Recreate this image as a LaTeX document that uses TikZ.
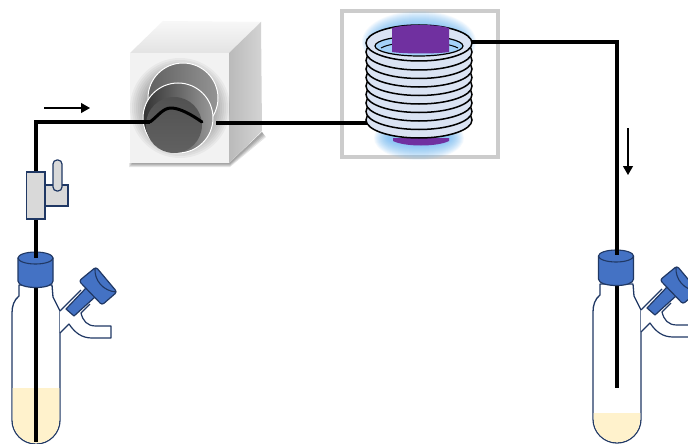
\documentclass[tikz,border=0pt]{standalone}
\usetikzlibrary{arrows.meta}
\definecolor{navy}{HTML}{203864}
\definecolor{capblue}{HTML}{4472C4}
\definecolor{liquid}{HTML}{FFF2CC}
\definecolor{valvegray}{HTML}{D9D9D9}
\definecolor{coilfill}{HTML}{DAE3F3}
\definecolor{glowblue}{HTML}{5AAEF5}
\definecolor{uvpurple}{HTML}{7030A0}
\tikzset{
  glass/.style={draw=navy,line width=1.3pt,line join=round},
  capshape/.style={draw=navy,line width=1.2pt,fill=capblue,line join=round},
  tube/.style={draw=black,line width=3.3pt,line cap=butt,line join=miter},
  flowarrow/.style={draw=black,line width=1.1pt,-{Triangle[length=9pt,width=10pt]}},
  valvepart/.style={draw=navy,line width=1.2pt,fill=valvegray},
  coilring/.style={draw=black,line width=1.5pt,fill=coilfill},
}
\newcommand{\flask}[4]{%
 \begin{scope}[shift={(#1,#2)}]
  % body
  \path[glass,fill=white] (19,285) -- (19,296) .. controls (14,300) and (12,306) .. (12,313)
     -- (12,420) arc[start angle=180,end angle=0,radius=24] -- (60,311)
     -- (53,297) -- (52,285) -- cycle;
  % side arm
  \fill[white] (60,311) -- (81,290) -- (95,300) -- (81,313)
     .. controls (83,321) and (87,326) .. (96,326) -- (111,326) -- (111,338) -- (92,338)
     .. controls (82,338) and (75,333) .. (69,324) -- (60,333) -- cycle;
  \begin{scope}
   \clip (12.7,#3) rectangle (59.3,450);
   \path[fill=liquid] (12.7,300) -- (12.7,420) arc[start angle=180,end angle=0,radius=23.3] -- (59.3,300) -- cycle;
  \end{scope}
  \draw[navy,line width=1.2pt,line join=round] (60,333) -- (69,324)
     .. controls (75,333) and (82,338) .. (92,338) -- (111,338) -- (111,326) -- (96,326)
     .. controls (87,326) and (83,321) .. (81,313) -- (90,304);
  \draw[navy,line width=1.2pt] (60,311) -- (81,290);
  % stem
  \draw[capshape] (66,309) -- (86,288) -- (95,297) -- (74,316) -- cycle;
  % knob
  \draw[capshape,rounded corners=2.5pt] (79,281) -- (96,267) -- (117,292) -- (102,305) -- cycle;
  \draw[navy,line width=1.1pt] (95,268) .. controls (94,280) and (103,291) .. (116,292);
  % inner tube
  \draw[tube] (36,287) -- (36,#4);
 \end{scope}}
\newcommand{\flaskcap}[2]{%
 \begin{scope}[shift={(#1,#2)}]
  \path[capshape] (18,258) -- (18,281) .. controls (18,285) and (26,287.5) .. (36,287.5)
     .. controls (46,287.5) and (53,285) .. (53,281) -- (53,258) -- cycle;
  \draw[navy,line width=1.1pt,fill=capblue] (35.5,258) ellipse[x radius=17.5,y radius=6];
 \end{scope}}
\begin{document}
\begin{tikzpicture}[x=1pt,y=-1pt]
\useasboundingbox (0,0) rectangle (688,444);
\fill[white] (0,0) rectangle (688,444);
\clip (0,0) rectangle (688,444);

% ---- flasks
\flask{0}{0}{388}{442}
\flask{581}{-1}{414}{389}
\flaskcap{0}{0}
\flaskcap{580.5}{-2}

% ---- pump
\foreach \r in {4,3,2,1}
  \fill[black,opacity=.10] (133-\r,163) -- (229,163) -- (262,132) -- (262+\r,133+\r) -- (230,163+\r) -- (133-\r,163+\r) -- cycle;
\shade[top color=black!3,bottom color=black!11] (130,53) -- (163,21) -- (261,22) -- (229,53) -- cycle;
\shade[left color=black!27,right color=black!17] (229,53) -- (261,22) -- (262,131) -- (229,163) -- cycle;
\fill[black!5] (130,53) rectangle (229,163);
\foreach \r in {50,48,46,44,42,40,38,36}
  \fill[black,opacity=.04] (180,108) circle[radius=\r];
\shade[left color=black!62,right color=black!42,draw=white,line width=1pt] (183,98) circle[radius=35];
\shade[left color=black!80,right color=black!40,draw=white,line width=1pt] (178,118) circle[radius=35];
\shade[top color=black!68,bottom color=black!62] (174,125) circle[radius=28];

% ---- photoreactor
\draw[black!20,line width=3.2pt] (342,11) rectangle (498,157);
\foreach \r in {1,...,15}
  \fill[glowblue,opacity=.065] (419,42) ellipse[x radius=42+\r,y radius=16+\r];
\foreach \r in {1,...,15}
  \fill[glowblue,opacity=.065] (419,138) ellipse[x radius=30+\r,y radius=7+\r];
\fill[uvpurple] (393,138) -- (393,141) .. controls (405,147) and (437,147) .. (449,141) -- (449,138) -- cycle;
\foreach \y in {120,111.5,103,94.5,86,77.5,69,60.5,52}
  \draw[coilring] (419,\y) ellipse[x radius=53,y radius=18];
\draw[coilring] (419,43) ellipse[x radius=53,y radius=18];
\fill[white!45!glowblue] (419,46) ellipse[x radius=44,y radius=10];
\draw[black,line width=1.2pt] (419,46) ellipse[x radius=44,y radius=10];
\draw[black,line width=1pt] (381,48) .. controls (395,40) and (443,40) .. (458,48);
\fill[uvpurple] (392,28) .. controls (405,24) and (436,24) .. (449,28) -- (449,52) .. controls (437,54) and (405,54) .. (392,52) -- cycle;

% ---- connectors
\coordinate (pumpin) at (150,122);
\coordinate (bend1) at (36,122);
\coordinate (flaskA) at (36,258);
\coordinate (pumpout) at (216,123);
\coordinate (coilin) at (367,123);
\coordinate (coilout) at (472,42);
\coordinate (bend2) at (617,42);
\coordinate (flaskB) at (617,255);
\draw[tube] (flaskA) -- (bend1) -- (pumpin);
\draw[tube] (pumpout) -- (coilin);
\draw[tube] (coilout) -- (bend2) -- (flaskB);
\draw[black,line width=3pt,line cap=round,line join=round] (pumpin)
   .. controls (158,116) and (163,108) .. (171,108) .. controls (180,108) and (192,115) .. (202,122);

% ---- flow arrows
\coordinate (a1s) at (44,108);
\coordinate (a1e) at (90,108);
\coordinate (a2s) at (628,128);
\coordinate (a2e) at (628,175);
\draw[flowarrow] (a1s) -- (a1e);
\draw[flowarrow] (a2s) -- (a2e);

% ---- valve
\draw[valvepart] (45,185) -- (68,185) -- (68,206) -- (45,206) -- cycle;
\draw[valvepart,rounded corners=4pt] (53,160) rectangle (62,191);
\draw[valvepart] (26.5,172) rectangle (45,219);
\end{tikzpicture}
\end{document}
